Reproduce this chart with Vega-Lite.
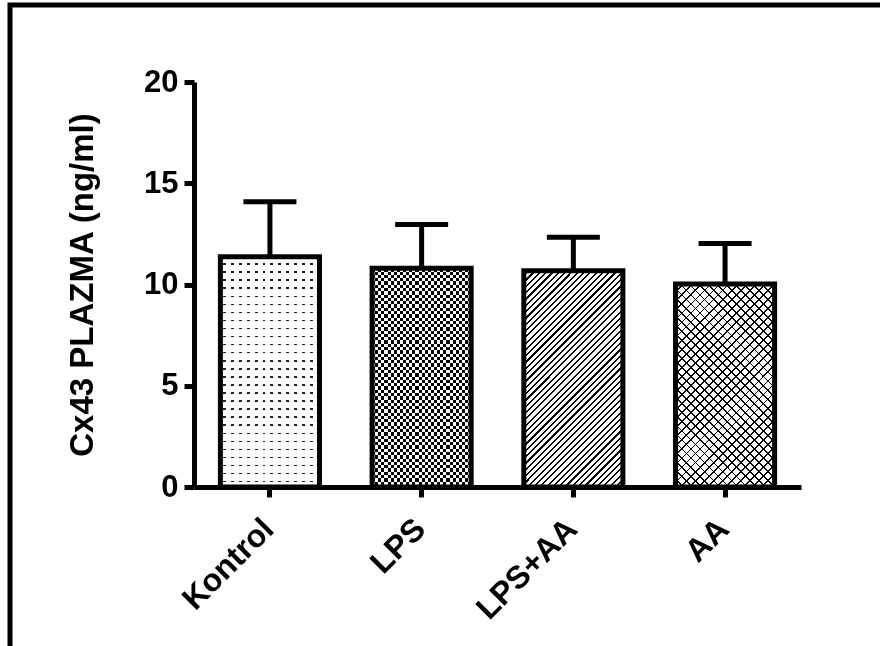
{
  "$schema": "https://vega.github.io/schema/vega-lite/v6.json",
  "width": 870,
  "height": 641,
  "autosize": {"type": "none"},
  "padding": {"left": 10, "top": 5, "right": 0, "bottom": 0},
  "background": "white",
  "config": {
    "view": {"stroke": "black", "strokeWidth": 5, "strokeDash": [870, 1511, 641]},
    "font": "Liberation Sans"
  },
  "data": {
    "values": [
      {"group": "Kontrol", "mean": 11.37, "upper": 14.09},
      {"group": "LPS", "mean": 10.8, "upper": 12.96},
      {"group": "LPS+AA", "mean": 10.68, "upper": 12.33},
      {"group": "AA", "mean": 10.02, "upper": 12.03}
    ]
  },
  "encoding": {
    "x": {
      "field": "group",
      "type": "nominal",
      "sort": null,
      "scale": {"domain": ["Kontrol", "LPS", "LPS+AA", "AA"], "range": [184, 791], "paddingInner": 0.347, "paddingOuter": 0.174},
      "axis": {
        "orient": "bottom",
        "offset": -159,
        "title": null,
        "labelAngle": -45,
        "labelAlign": "right",
        "labelBaseline": "top",
        "labelFont": "Liberation Sans",
        "labelFontSize": 32,
        "labelFontWeight": "bold",
        "labelColor": "black",
        "labelPadding": 16,
        "labelOffset": -12,
        "domainColor": "black",
        "domainWidth": 5,
        "tickColor": "black",
        "tickWidth": 5,
        "tickSize": 10,
        "grid": false
      }
    },
    "y": {
      "field": "mean",
      "type": "quantitative",
      "scale": {"domain": [0, 20], "range": [482, 77], "nice": false, "zero": true},
      "axis": {
        "orient": "left",
        "offset": -184,
        "values": [0, 5, 10, 15, 20],
        "grid": false,
        "domainColor": "black",
        "domainWidth": 5,
        "tickColor": "black",
        "tickWidth": 5,
        "tickSize": 10,
        "labelFont": "Liberation Sans",
        "labelFontSize": 31,
        "labelFontWeight": "bold",
        "labelColor": "black",
        "labelPadding": 6,
        "labelFlush": false,
        "labelOverlap": false,
        "title": "Cx43 PLAZMA (ng/ml)",
        "titleFont": "Liberation Sans",
        "titleFontSize": 33,
        "titleFontWeight": "bold",
        "titleColor": "black",
        "titlePadding": 44
      }
    }
  },
  "layer": [
    {
      "mark": {"type": "rule", "color": "black", "strokeWidth": 5},
      "encoding": {"y2": {"field": "upper"}}
    },
    {
      "transform": [{"filter": "datum.group === 'Kontrol'"}],
      "mark": {"type": "bar", "strokeWidth": 0, "fill": {"gradient": "linear", "x1": 0, "y1": 0, "x2": 0, "y2": 1, "stops": [
        {"offset": 0, "color": "#fff"},
        {"offset": 0.0285, "color": "#fff"}, {"offset": 0.0285, "color": "#222"}, {"offset": 0.035, "color": "#222"}, {"offset": 0.035, "color": "#fff"},
        {"offset": 0.0635, "color": "#fff"}, {"offset": 0.0635, "color": "#222"}, {"offset": 0.07, "color": "#222"}, {"offset": 0.07, "color": "#fff"},
        {"offset": 0.0985, "color": "#fff"}, {"offset": 0.0985, "color": "#222"}, {"offset": 0.105, "color": "#222"}, {"offset": 0.105, "color": "#fff"},
        {"offset": 0.1335, "color": "#fff"}, {"offset": 0.1335, "color": "#222"}, {"offset": 0.14, "color": "#222"}, {"offset": 0.14, "color": "#fff"},
        {"offset": 0.1685, "color": "#fff"}, {"offset": 0.1685, "color": "#222"}, {"offset": 0.175, "color": "#222"}, {"offset": 0.175, "color": "#fff"},
        {"offset": 0.2035, "color": "#fff"}, {"offset": 0.2035, "color": "#222"}, {"offset": 0.21, "color": "#222"}, {"offset": 0.21, "color": "#fff"},
        {"offset": 0.2385, "color": "#fff"}, {"offset": 0.2385, "color": "#222"}, {"offset": 0.245, "color": "#222"}, {"offset": 0.245, "color": "#fff"},
        {"offset": 0.2735, "color": "#fff"}, {"offset": 0.2735, "color": "#222"}, {"offset": 0.28, "color": "#222"}, {"offset": 0.28, "color": "#fff"},
        {"offset": 0.3085, "color": "#fff"}, {"offset": 0.3085, "color": "#222"}, {"offset": 0.315, "color": "#222"}, {"offset": 0.315, "color": "#fff"},
        {"offset": 0.3435, "color": "#fff"}, {"offset": 0.3435, "color": "#222"}, {"offset": 0.35, "color": "#222"}, {"offset": 0.35, "color": "#fff"},
        {"offset": 0.3785, "color": "#fff"}, {"offset": 0.3785, "color": "#222"}, {"offset": 0.385, "color": "#222"}, {"offset": 0.385, "color": "#fff"},
        {"offset": 0.4135, "color": "#fff"}, {"offset": 0.4135, "color": "#222"}, {"offset": 0.42, "color": "#222"}, {"offset": 0.42, "color": "#fff"},
        {"offset": 0.4485, "color": "#fff"}, {"offset": 0.4485, "color": "#222"}, {"offset": 0.455, "color": "#222"}, {"offset": 0.455, "color": "#fff"},
        {"offset": 0.4835, "color": "#fff"}, {"offset": 0.4835, "color": "#222"}, {"offset": 0.49, "color": "#222"}, {"offset": 0.49, "color": "#fff"},
        {"offset": 0.5185, "color": "#fff"}, {"offset": 0.5185, "color": "#222"}, {"offset": 0.525, "color": "#222"}, {"offset": 0.525, "color": "#fff"},
        {"offset": 0.5535, "color": "#fff"}, {"offset": 0.5535, "color": "#222"}, {"offset": 0.56, "color": "#222"}, {"offset": 0.56, "color": "#fff"},
        {"offset": 0.5885, "color": "#fff"}, {"offset": 0.5885, "color": "#222"}, {"offset": 0.595, "color": "#222"}, {"offset": 0.595, "color": "#fff"},
        {"offset": 0.6235, "color": "#fff"}, {"offset": 0.6235, "color": "#222"}, {"offset": 0.63, "color": "#222"}, {"offset": 0.63, "color": "#fff"},
        {"offset": 0.6585, "color": "#fff"}, {"offset": 0.6585, "color": "#222"}, {"offset": 0.665, "color": "#222"}, {"offset": 0.665, "color": "#fff"},
        {"offset": 0.6935, "color": "#fff"}, {"offset": 0.6935, "color": "#222"}, {"offset": 0.7, "color": "#222"}, {"offset": 0.7, "color": "#fff"},
        {"offset": 0.7285, "color": "#fff"}, {"offset": 0.7285, "color": "#222"}, {"offset": 0.735, "color": "#222"}, {"offset": 0.735, "color": "#fff"},
        {"offset": 0.7635, "color": "#fff"}, {"offset": 0.7635, "color": "#222"}, {"offset": 0.77, "color": "#222"}, {"offset": 0.77, "color": "#fff"},
        {"offset": 0.7985, "color": "#fff"}, {"offset": 0.7985, "color": "#222"}, {"offset": 0.805, "color": "#222"}, {"offset": 0.805, "color": "#fff"},
        {"offset": 0.8335, "color": "#fff"}, {"offset": 0.8335, "color": "#222"}, {"offset": 0.84, "color": "#222"}, {"offset": 0.84, "color": "#fff"},
        {"offset": 0.8685, "color": "#fff"}, {"offset": 0.8685, "color": "#222"}, {"offset": 0.875, "color": "#222"}, {"offset": 0.875, "color": "#fff"},
        {"offset": 0.9035, "color": "#fff"}, {"offset": 0.9035, "color": "#222"}, {"offset": 0.91, "color": "#222"}, {"offset": 0.91, "color": "#fff"},
        {"offset": 0.9385, "color": "#fff"}, {"offset": 0.9385, "color": "#222"}, {"offset": 0.945, "color": "#222"}, {"offset": 0.945, "color": "#fff"},
        {"offset": 0.9735, "color": "#fff"}, {"offset": 0.9735, "color": "#222"}, {"offset": 0.98, "color": "#222"}, {"offset": 0.98, "color": "#fff"},
        {"offset": 1, "color": "#fff"}
      ]}}
    },
    {
      "transform": [{"filter": "datum.group === 'Kontrol'"}],
      "mark": {"type": "bar", "strokeWidth": 0, "fill": {"gradient": "linear", "x1": 0, "y1": 0, "x2": 1, "y2": 0, "stops": [
        {"offset": 0, "color": "#fff"},
        {"offset": 0.025, "color": "#fff"}, {"offset": 0.025, "color": "#fff0"}, {"offset": 0.055, "color": "#fff0"}, {"offset": 0.055, "color": "#fff"},
        {"offset": 0.105, "color": "#fff"}, {"offset": 0.105, "color": "#fff0"}, {"offset": 0.135, "color": "#fff0"}, {"offset": 0.135, "color": "#fff"},
        {"offset": 0.185, "color": "#fff"}, {"offset": 0.185, "color": "#fff0"}, {"offset": 0.215, "color": "#fff0"}, {"offset": 0.215, "color": "#fff"},
        {"offset": 0.265, "color": "#fff"}, {"offset": 0.265, "color": "#fff0"}, {"offset": 0.295, "color": "#fff0"}, {"offset": 0.295, "color": "#fff"},
        {"offset": 0.345, "color": "#fff"}, {"offset": 0.345, "color": "#fff0"}, {"offset": 0.375, "color": "#fff0"}, {"offset": 0.375, "color": "#fff"},
        {"offset": 0.425, "color": "#fff"}, {"offset": 0.425, "color": "#fff0"}, {"offset": 0.455, "color": "#fff0"}, {"offset": 0.455, "color": "#fff"},
        {"offset": 0.505, "color": "#fff"}, {"offset": 0.505, "color": "#fff0"}, {"offset": 0.535, "color": "#fff0"}, {"offset": 0.535, "color": "#fff"},
        {"offset": 0.585, "color": "#fff"}, {"offset": 0.585, "color": "#fff0"}, {"offset": 0.615, "color": "#fff0"}, {"offset": 0.615, "color": "#fff"},
        {"offset": 0.665, "color": "#fff"}, {"offset": 0.665, "color": "#fff0"}, {"offset": 0.695, "color": "#fff0"}, {"offset": 0.695, "color": "#fff"},
        {"offset": 0.745, "color": "#fff"}, {"offset": 0.745, "color": "#fff0"}, {"offset": 0.775, "color": "#fff0"}, {"offset": 0.775, "color": "#fff"},
        {"offset": 0.825, "color": "#fff"}, {"offset": 0.825, "color": "#fff0"}, {"offset": 0.855, "color": "#fff0"}, {"offset": 0.855, "color": "#fff"},
        {"offset": 0.905, "color": "#fff"}, {"offset": 0.905, "color": "#fff0"}, {"offset": 0.935, "color": "#fff0"}, {"offset": 0.935, "color": "#fff"},
        {"offset": 1, "color": "#fff"}
      ]}}
    },
    {
      "transform": [{"filter": "datum.group === 'LPS'"}],
      "mark": {"type": "bar", "strokeWidth": 0, "fill": {"gradient": "linear", "x1": 0, "y1": 0, "x2": 1, "y2": 0, "stops": [
        {"offset": 0, "color": "#000"},
        {"offset": 0.03125, "color": "#000"}, {"offset": 0.03125, "color": "#fff"}, {"offset": 0.0625, "color": "#fff"}, {"offset": 0.0625, "color": "#000"},
        {"offset": 0.09375, "color": "#000"}, {"offset": 0.09375, "color": "#fff"}, {"offset": 0.125, "color": "#fff"}, {"offset": 0.125, "color": "#000"},
        {"offset": 0.15625, "color": "#000"}, {"offset": 0.15625, "color": "#fff"}, {"offset": 0.1875, "color": "#fff"}, {"offset": 0.1875, "color": "#000"},
        {"offset": 0.21875, "color": "#000"}, {"offset": 0.21875, "color": "#fff"}, {"offset": 0.25, "color": "#fff"}, {"offset": 0.25, "color": "#000"},
        {"offset": 0.28125, "color": "#000"}, {"offset": 0.28125, "color": "#fff"}, {"offset": 0.3125, "color": "#fff"}, {"offset": 0.3125, "color": "#000"},
        {"offset": 0.34375, "color": "#000"}, {"offset": 0.34375, "color": "#fff"}, {"offset": 0.375, "color": "#fff"}, {"offset": 0.375, "color": "#000"},
        {"offset": 0.40625, "color": "#000"}, {"offset": 0.40625, "color": "#fff"}, {"offset": 0.4375, "color": "#fff"}, {"offset": 0.4375, "color": "#000"},
        {"offset": 0.46875, "color": "#000"}, {"offset": 0.46875, "color": "#fff"}, {"offset": 0.5, "color": "#fff"}, {"offset": 0.5, "color": "#000"},
        {"offset": 0.53125, "color": "#000"}, {"offset": 0.53125, "color": "#fff"}, {"offset": 0.5625, "color": "#fff"}, {"offset": 0.5625, "color": "#000"},
        {"offset": 0.59375, "color": "#000"}, {"offset": 0.59375, "color": "#fff"}, {"offset": 0.625, "color": "#fff"}, {"offset": 0.625, "color": "#000"},
        {"offset": 0.65625, "color": "#000"}, {"offset": 0.65625, "color": "#fff"}, {"offset": 0.6875, "color": "#fff"}, {"offset": 0.6875, "color": "#000"},
        {"offset": 0.71875, "color": "#000"}, {"offset": 0.71875, "color": "#fff"}, {"offset": 0.75, "color": "#fff"}, {"offset": 0.75, "color": "#000"},
        {"offset": 0.78125, "color": "#000"}, {"offset": 0.78125, "color": "#fff"}, {"offset": 0.8125, "color": "#fff"}, {"offset": 0.8125, "color": "#000"},
        {"offset": 0.84375, "color": "#000"}, {"offset": 0.84375, "color": "#fff"}, {"offset": 0.875, "color": "#fff"}, {"offset": 0.875, "color": "#000"},
        {"offset": 0.90625, "color": "#000"}, {"offset": 0.90625, "color": "#fff"}, {"offset": 0.9375, "color": "#fff"}, {"offset": 0.9375, "color": "#000"},
        {"offset": 0.96875, "color": "#000"}, {"offset": 0.96875, "color": "#fff"}, {"offset": 1, "color": "#fff"}
      ]}}
    },
    {
      "transform": [{"filter": "datum.group === 'LPS'"}],
      "mark": {"type": "bar", "strokeWidth": 0, "blend": "difference", "fill": {"gradient": "linear", "x1": 0, "y1": 0, "x2": 0, "y2": 1, "stops": [
        {"offset": 0, "color": "#fff0"},
        {"offset": 0.015, "color": "#fff0"}, {"offset": 0.015, "color": "#fff"}, {"offset": 0.03, "color": "#fff"}, {"offset": 0.03, "color": "#fff0"},
        {"offset": 0.045, "color": "#fff0"}, {"offset": 0.045, "color": "#fff"}, {"offset": 0.06, "color": "#fff"}, {"offset": 0.06, "color": "#fff0"},
        {"offset": 0.075, "color": "#fff0"}, {"offset": 0.075, "color": "#fff"}, {"offset": 0.09, "color": "#fff"}, {"offset": 0.09, "color": "#fff0"},
        {"offset": 0.105, "color": "#fff0"}, {"offset": 0.105, "color": "#fff"}, {"offset": 0.12, "color": "#fff"}, {"offset": 0.12, "color": "#fff0"},
        {"offset": 0.135, "color": "#fff0"}, {"offset": 0.135, "color": "#fff"}, {"offset": 0.15, "color": "#fff"}, {"offset": 0.15, "color": "#fff0"},
        {"offset": 0.165, "color": "#fff0"}, {"offset": 0.165, "color": "#fff"}, {"offset": 0.18, "color": "#fff"}, {"offset": 0.18, "color": "#fff0"},
        {"offset": 0.195, "color": "#fff0"}, {"offset": 0.195, "color": "#fff"}, {"offset": 0.21, "color": "#fff"}, {"offset": 0.21, "color": "#fff0"},
        {"offset": 0.225, "color": "#fff0"}, {"offset": 0.225, "color": "#fff"}, {"offset": 0.24, "color": "#fff"}, {"offset": 0.24, "color": "#fff0"},
        {"offset": 0.255, "color": "#fff0"}, {"offset": 0.255, "color": "#fff"}, {"offset": 0.27, "color": "#fff"}, {"offset": 0.27, "color": "#fff0"},
        {"offset": 0.285, "color": "#fff0"}, {"offset": 0.285, "color": "#fff"}, {"offset": 0.3, "color": "#fff"}, {"offset": 0.3, "color": "#fff0"},
        {"offset": 0.315, "color": "#fff0"}, {"offset": 0.315, "color": "#fff"}, {"offset": 0.33, "color": "#fff"}, {"offset": 0.33, "color": "#fff0"},
        {"offset": 0.345, "color": "#fff0"}, {"offset": 0.345, "color": "#fff"}, {"offset": 0.36, "color": "#fff"}, {"offset": 0.36, "color": "#fff0"},
        {"offset": 0.375, "color": "#fff0"}, {"offset": 0.375, "color": "#fff"}, {"offset": 0.39, "color": "#fff"}, {"offset": 0.39, "color": "#fff0"},
        {"offset": 0.405, "color": "#fff0"}, {"offset": 0.405, "color": "#fff"}, {"offset": 0.42, "color": "#fff"}, {"offset": 0.42, "color": "#fff0"},
        {"offset": 0.435, "color": "#fff0"}, {"offset": 0.435, "color": "#fff"}, {"offset": 0.45, "color": "#fff"}, {"offset": 0.45, "color": "#fff0"},
        {"offset": 0.465, "color": "#fff0"}, {"offset": 0.465, "color": "#fff"}, {"offset": 0.48, "color": "#fff"}, {"offset": 0.48, "color": "#fff0"},
        {"offset": 0.495, "color": "#fff0"}, {"offset": 0.495, "color": "#fff"}, {"offset": 0.51, "color": "#fff"}, {"offset": 0.51, "color": "#fff0"},
        {"offset": 0.525, "color": "#fff0"}, {"offset": 0.525, "color": "#fff"}, {"offset": 0.54, "color": "#fff"}, {"offset": 0.54, "color": "#fff0"},
        {"offset": 0.555, "color": "#fff0"}, {"offset": 0.555, "color": "#fff"}, {"offset": 0.57, "color": "#fff"}, {"offset": 0.57, "color": "#fff0"},
        {"offset": 0.585, "color": "#fff0"}, {"offset": 0.585, "color": "#fff"}, {"offset": 0.6, "color": "#fff"}, {"offset": 0.6, "color": "#fff0"},
        {"offset": 0.615, "color": "#fff0"}, {"offset": 0.615, "color": "#fff"}, {"offset": 0.63, "color": "#fff"}, {"offset": 0.63, "color": "#fff0"},
        {"offset": 0.645, "color": "#fff0"}, {"offset": 0.645, "color": "#fff"}, {"offset": 0.66, "color": "#fff"}, {"offset": 0.66, "color": "#fff0"},
        {"offset": 0.675, "color": "#fff0"}, {"offset": 0.675, "color": "#fff"}, {"offset": 0.69, "color": "#fff"}, {"offset": 0.69, "color": "#fff0"},
        {"offset": 0.705, "color": "#fff0"}, {"offset": 0.705, "color": "#fff"}, {"offset": 0.72, "color": "#fff"}, {"offset": 0.72, "color": "#fff0"},
        {"offset": 0.735, "color": "#fff0"}, {"offset": 0.735, "color": "#fff"}, {"offset": 0.75, "color": "#fff"}, {"offset": 0.75, "color": "#fff0"},
        {"offset": 0.765, "color": "#fff0"}, {"offset": 0.765, "color": "#fff"}, {"offset": 0.78, "color": "#fff"}, {"offset": 0.78, "color": "#fff0"},
        {"offset": 0.795, "color": "#fff0"}, {"offset": 0.795, "color": "#fff"}, {"offset": 0.81, "color": "#fff"}, {"offset": 0.81, "color": "#fff0"},
        {"offset": 0.825, "color": "#fff0"}, {"offset": 0.825, "color": "#fff"}, {"offset": 0.84, "color": "#fff"}, {"offset": 0.84, "color": "#fff0"},
        {"offset": 0.855, "color": "#fff0"}, {"offset": 0.855, "color": "#fff"}, {"offset": 0.87, "color": "#fff"}, {"offset": 0.87, "color": "#fff0"},
        {"offset": 0.885, "color": "#fff0"}, {"offset": 0.885, "color": "#fff"}, {"offset": 0.9, "color": "#fff"}, {"offset": 0.9, "color": "#fff0"},
        {"offset": 0.915, "color": "#fff0"}, {"offset": 0.915, "color": "#fff"}, {"offset": 0.93, "color": "#fff"}, {"offset": 0.93, "color": "#fff0"},
        {"offset": 0.945, "color": "#fff0"}, {"offset": 0.945, "color": "#fff"}, {"offset": 0.96, "color": "#fff"}, {"offset": 0.96, "color": "#fff0"},
        {"offset": 0.975, "color": "#fff0"}, {"offset": 0.975, "color": "#fff"}, {"offset": 0.99, "color": "#fff"}, {"offset": 0.99, "color": "#fff0"},
        {"offset": 1, "color": "#fff0"}
      ]}}
    },
    {
      "transform": [{"filter": "datum.group === 'LPS+AA'"}],
      "mark": {"type": "bar", "strokeWidth": 0, "fill": {"gradient": "linear", "x1": 0, "y1": 0, "x2": 0.5522, "y2": 1.2052, "stops": [
        {"offset": 0, "color": "#fff"},
        {"offset": 0.013, "color": "#fff"}, {"offset": 0.013, "color": "#000"}, {"offset": 0.02, "color": "#000"}, {"offset": 0.02, "color": "#fff"},
        {"offset": 0.033, "color": "#fff"}, {"offset": 0.033, "color": "#000"}, {"offset": 0.04, "color": "#000"}, {"offset": 0.04, "color": "#fff"},
        {"offset": 0.053, "color": "#fff"}, {"offset": 0.053, "color": "#000"}, {"offset": 0.06, "color": "#000"}, {"offset": 0.06, "color": "#fff"},
        {"offset": 0.073, "color": "#fff"}, {"offset": 0.073, "color": "#000"}, {"offset": 0.08, "color": "#000"}, {"offset": 0.08, "color": "#fff"},
        {"offset": 0.093, "color": "#fff"}, {"offset": 0.093, "color": "#000"}, {"offset": 0.1, "color": "#000"}, {"offset": 0.1, "color": "#fff"},
        {"offset": 0.113, "color": "#fff"}, {"offset": 0.113, "color": "#000"}, {"offset": 0.12, "color": "#000"}, {"offset": 0.12, "color": "#fff"},
        {"offset": 0.133, "color": "#fff"}, {"offset": 0.133, "color": "#000"}, {"offset": 0.14, "color": "#000"}, {"offset": 0.14, "color": "#fff"},
        {"offset": 0.153, "color": "#fff"}, {"offset": 0.153, "color": "#000"}, {"offset": 0.16, "color": "#000"}, {"offset": 0.16, "color": "#fff"},
        {"offset": 0.173, "color": "#fff"}, {"offset": 0.173, "color": "#000"}, {"offset": 0.18, "color": "#000"}, {"offset": 0.18, "color": "#fff"},
        {"offset": 0.193, "color": "#fff"}, {"offset": 0.193, "color": "#000"}, {"offset": 0.2, "color": "#000"}, {"offset": 0.2, "color": "#fff"},
        {"offset": 0.213, "color": "#fff"}, {"offset": 0.213, "color": "#000"}, {"offset": 0.22, "color": "#000"}, {"offset": 0.22, "color": "#fff"},
        {"offset": 0.233, "color": "#fff"}, {"offset": 0.233, "color": "#000"}, {"offset": 0.24, "color": "#000"}, {"offset": 0.24, "color": "#fff"},
        {"offset": 0.253, "color": "#fff"}, {"offset": 0.253, "color": "#000"}, {"offset": 0.26, "color": "#000"}, {"offset": 0.26, "color": "#fff"},
        {"offset": 0.273, "color": "#fff"}, {"offset": 0.273, "color": "#000"}, {"offset": 0.28, "color": "#000"}, {"offset": 0.28, "color": "#fff"},
        {"offset": 0.293, "color": "#fff"}, {"offset": 0.293, "color": "#000"}, {"offset": 0.3, "color": "#000"}, {"offset": 0.3, "color": "#fff"},
        {"offset": 0.313, "color": "#fff"}, {"offset": 0.313, "color": "#000"}, {"offset": 0.32, "color": "#000"}, {"offset": 0.32, "color": "#fff"},
        {"offset": 0.333, "color": "#fff"}, {"offset": 0.333, "color": "#000"}, {"offset": 0.34, "color": "#000"}, {"offset": 0.34, "color": "#fff"},
        {"offset": 0.353, "color": "#fff"}, {"offset": 0.353, "color": "#000"}, {"offset": 0.36, "color": "#000"}, {"offset": 0.36, "color": "#fff"},
        {"offset": 0.373, "color": "#fff"}, {"offset": 0.373, "color": "#000"}, {"offset": 0.38, "color": "#000"}, {"offset": 0.38, "color": "#fff"},
        {"offset": 0.393, "color": "#fff"}, {"offset": 0.393, "color": "#000"}, {"offset": 0.4, "color": "#000"}, {"offset": 0.4, "color": "#fff"},
        {"offset": 0.413, "color": "#fff"}, {"offset": 0.413, "color": "#000"}, {"offset": 0.42, "color": "#000"}, {"offset": 0.42, "color": "#fff"},
        {"offset": 0.433, "color": "#fff"}, {"offset": 0.433, "color": "#000"}, {"offset": 0.44, "color": "#000"}, {"offset": 0.44, "color": "#fff"},
        {"offset": 0.453, "color": "#fff"}, {"offset": 0.453, "color": "#000"}, {"offset": 0.46, "color": "#000"}, {"offset": 0.46, "color": "#fff"},
        {"offset": 0.473, "color": "#fff"}, {"offset": 0.473, "color": "#000"}, {"offset": 0.48, "color": "#000"}, {"offset": 0.48, "color": "#fff"},
        {"offset": 0.493, "color": "#fff"}, {"offset": 0.493, "color": "#000"}, {"offset": 0.5, "color": "#000"}, {"offset": 0.5, "color": "#fff"},
        {"offset": 0.513, "color": "#fff"}, {"offset": 0.513, "color": "#000"}, {"offset": 0.52, "color": "#000"}, {"offset": 0.52, "color": "#fff"},
        {"offset": 0.533, "color": "#fff"}, {"offset": 0.533, "color": "#000"}, {"offset": 0.54, "color": "#000"}, {"offset": 0.54, "color": "#fff"},
        {"offset": 0.553, "color": "#fff"}, {"offset": 0.553, "color": "#000"}, {"offset": 0.56, "color": "#000"}, {"offset": 0.56, "color": "#fff"},
        {"offset": 0.573, "color": "#fff"}, {"offset": 0.573, "color": "#000"}, {"offset": 0.58, "color": "#000"}, {"offset": 0.58, "color": "#fff"},
        {"offset": 0.593, "color": "#fff"}, {"offset": 0.593, "color": "#000"}, {"offset": 0.6, "color": "#000"}, {"offset": 0.6, "color": "#fff"},
        {"offset": 0.613, "color": "#fff"}, {"offset": 0.613, "color": "#000"}, {"offset": 0.62, "color": "#000"}, {"offset": 0.62, "color": "#fff"},
        {"offset": 0.633, "color": "#fff"}, {"offset": 0.633, "color": "#000"}, {"offset": 0.64, "color": "#000"}, {"offset": 0.64, "color": "#fff"},
        {"offset": 0.653, "color": "#fff"}, {"offset": 0.653, "color": "#000"}, {"offset": 0.66, "color": "#000"}, {"offset": 0.66, "color": "#fff"},
        {"offset": 0.673, "color": "#fff"}, {"offset": 0.673, "color": "#000"}, {"offset": 0.68, "color": "#000"}, {"offset": 0.68, "color": "#fff"},
        {"offset": 0.693, "color": "#fff"}, {"offset": 0.693, "color": "#000"}, {"offset": 0.7, "color": "#000"}, {"offset": 0.7, "color": "#fff"},
        {"offset": 0.713, "color": "#fff"}, {"offset": 0.713, "color": "#000"}, {"offset": 0.72, "color": "#000"}, {"offset": 0.72, "color": "#fff"},
        {"offset": 0.733, "color": "#fff"}, {"offset": 0.733, "color": "#000"}, {"offset": 0.74, "color": "#000"}, {"offset": 0.74, "color": "#fff"},
        {"offset": 0.753, "color": "#fff"}, {"offset": 0.753, "color": "#000"}, {"offset": 0.76, "color": "#000"}, {"offset": 0.76, "color": "#fff"},
        {"offset": 0.773, "color": "#fff"}, {"offset": 0.773, "color": "#000"}, {"offset": 0.78, "color": "#000"}, {"offset": 0.78, "color": "#fff"},
        {"offset": 0.793, "color": "#fff"}, {"offset": 0.793, "color": "#000"}, {"offset": 0.8, "color": "#000"}, {"offset": 0.8, "color": "#fff"},
        {"offset": 0.813, "color": "#fff"}, {"offset": 0.813, "color": "#000"}, {"offset": 0.82, "color": "#000"}, {"offset": 0.82, "color": "#fff"},
        {"offset": 0.833, "color": "#fff"}, {"offset": 0.833, "color": "#000"}, {"offset": 0.84, "color": "#000"}, {"offset": 0.84, "color": "#fff"},
        {"offset": 0.853, "color": "#fff"}, {"offset": 0.853, "color": "#000"}, {"offset": 0.86, "color": "#000"}, {"offset": 0.86, "color": "#fff"},
        {"offset": 0.873, "color": "#fff"}, {"offset": 0.873, "color": "#000"}, {"offset": 0.88, "color": "#000"}, {"offset": 0.88, "color": "#fff"},
        {"offset": 0.893, "color": "#fff"}, {"offset": 0.893, "color": "#000"}, {"offset": 0.9, "color": "#000"}, {"offset": 0.9, "color": "#fff"},
        {"offset": 0.913, "color": "#fff"}, {"offset": 0.913, "color": "#000"}, {"offset": 0.92, "color": "#000"}, {"offset": 0.92, "color": "#fff"},
        {"offset": 0.933, "color": "#fff"}, {"offset": 0.933, "color": "#000"}, {"offset": 0.94, "color": "#000"}, {"offset": 0.94, "color": "#fff"},
        {"offset": 0.953, "color": "#fff"}, {"offset": 0.953, "color": "#000"}, {"offset": 0.96, "color": "#000"}, {"offset": 0.96, "color": "#fff"},
        {"offset": 0.973, "color": "#fff"}, {"offset": 0.973, "color": "#000"}, {"offset": 0.98, "color": "#000"}, {"offset": 0.98, "color": "#fff"},
        {"offset": 0.993, "color": "#fff"}, {"offset": 0.993, "color": "#000"}, {"offset": 1, "color": "#000"}
      ]}}
    },
    {
      "transform": [{"filter": "datum.group === 'AA'"}],
      "mark": {"type": "bar", "strokeWidth": 0, "fill": {"gradient": "linear", "x1": 0, "y1": 1, "x2": 0.587, "y2": -0.2018, "stops": [
        {"offset": 0, "color": "#fff"},
        {"offset": 0.024, "color": "#fff"}, {"offset": 0.024, "color": "#000"}, {"offset": 0.03, "color": "#000"}, {"offset": 0.03, "color": "#fff"},
        {"offset": 0.054, "color": "#fff"}, {"offset": 0.054, "color": "#000"}, {"offset": 0.06, "color": "#000"}, {"offset": 0.06, "color": "#fff"},
        {"offset": 0.084, "color": "#fff"}, {"offset": 0.084, "color": "#000"}, {"offset": 0.09, "color": "#000"}, {"offset": 0.09, "color": "#fff"},
        {"offset": 0.114, "color": "#fff"}, {"offset": 0.114, "color": "#000"}, {"offset": 0.12, "color": "#000"}, {"offset": 0.12, "color": "#fff"},
        {"offset": 0.144, "color": "#fff"}, {"offset": 0.144, "color": "#000"}, {"offset": 0.15, "color": "#000"}, {"offset": 0.15, "color": "#fff"},
        {"offset": 0.174, "color": "#fff"}, {"offset": 0.174, "color": "#000"}, {"offset": 0.18, "color": "#000"}, {"offset": 0.18, "color": "#fff"},
        {"offset": 0.204, "color": "#fff"}, {"offset": 0.204, "color": "#000"}, {"offset": 0.21, "color": "#000"}, {"offset": 0.21, "color": "#fff"},
        {"offset": 0.234, "color": "#fff"}, {"offset": 0.234, "color": "#000"}, {"offset": 0.24, "color": "#000"}, {"offset": 0.24, "color": "#fff"},
        {"offset": 0.264, "color": "#fff"}, {"offset": 0.264, "color": "#000"}, {"offset": 0.27, "color": "#000"}, {"offset": 0.27, "color": "#fff"},
        {"offset": 0.294, "color": "#fff"}, {"offset": 0.294, "color": "#000"}, {"offset": 0.3, "color": "#000"}, {"offset": 0.3, "color": "#fff"},
        {"offset": 0.324, "color": "#fff"}, {"offset": 0.324, "color": "#000"}, {"offset": 0.33, "color": "#000"}, {"offset": 0.33, "color": "#fff"},
        {"offset": 0.354, "color": "#fff"}, {"offset": 0.354, "color": "#000"}, {"offset": 0.36, "color": "#000"}, {"offset": 0.36, "color": "#fff"},
        {"offset": 0.384, "color": "#fff"}, {"offset": 0.384, "color": "#000"}, {"offset": 0.39, "color": "#000"}, {"offset": 0.39, "color": "#fff"},
        {"offset": 0.414, "color": "#fff"}, {"offset": 0.414, "color": "#000"}, {"offset": 0.42, "color": "#000"}, {"offset": 0.42, "color": "#fff"},
        {"offset": 0.444, "color": "#fff"}, {"offset": 0.444, "color": "#000"}, {"offset": 0.45, "color": "#000"}, {"offset": 0.45, "color": "#fff"},
        {"offset": 0.474, "color": "#fff"}, {"offset": 0.474, "color": "#000"}, {"offset": 0.48, "color": "#000"}, {"offset": 0.48, "color": "#fff"},
        {"offset": 0.504, "color": "#fff"}, {"offset": 0.504, "color": "#000"}, {"offset": 0.51, "color": "#000"}, {"offset": 0.51, "color": "#fff"},
        {"offset": 0.534, "color": "#fff"}, {"offset": 0.534, "color": "#000"}, {"offset": 0.54, "color": "#000"}, {"offset": 0.54, "color": "#fff"},
        {"offset": 0.564, "color": "#fff"}, {"offset": 0.564, "color": "#000"}, {"offset": 0.57, "color": "#000"}, {"offset": 0.57, "color": "#fff"},
        {"offset": 0.594, "color": "#fff"}, {"offset": 0.594, "color": "#000"}, {"offset": 0.6, "color": "#000"}, {"offset": 0.6, "color": "#fff"},
        {"offset": 0.624, "color": "#fff"}, {"offset": 0.624, "color": "#000"}, {"offset": 0.63, "color": "#000"}, {"offset": 0.63, "color": "#fff"},
        {"offset": 0.654, "color": "#fff"}, {"offset": 0.654, "color": "#000"}, {"offset": 0.66, "color": "#000"}, {"offset": 0.66, "color": "#fff"},
        {"offset": 0.684, "color": "#fff"}, {"offset": 0.684, "color": "#000"}, {"offset": 0.69, "color": "#000"}, {"offset": 0.69, "color": "#fff"},
        {"offset": 0.714, "color": "#fff"}, {"offset": 0.714, "color": "#000"}, {"offset": 0.72, "color": "#000"}, {"offset": 0.72, "color": "#fff"},
        {"offset": 0.744, "color": "#fff"}, {"offset": 0.744, "color": "#000"}, {"offset": 0.75, "color": "#000"}, {"offset": 0.75, "color": "#fff"},
        {"offset": 0.774, "color": "#fff"}, {"offset": 0.774, "color": "#000"}, {"offset": 0.78, "color": "#000"}, {"offset": 0.78, "color": "#fff"},
        {"offset": 0.804, "color": "#fff"}, {"offset": 0.804, "color": "#000"}, {"offset": 0.81, "color": "#000"}, {"offset": 0.81, "color": "#fff"},
        {"offset": 0.834, "color": "#fff"}, {"offset": 0.834, "color": "#000"}, {"offset": 0.84, "color": "#000"}, {"offset": 0.84, "color": "#fff"},
        {"offset": 0.864, "color": "#fff"}, {"offset": 0.864, "color": "#000"}, {"offset": 0.87, "color": "#000"}, {"offset": 0.87, "color": "#fff"},
        {"offset": 0.894, "color": "#fff"}, {"offset": 0.894, "color": "#000"}, {"offset": 0.9, "color": "#000"}, {"offset": 0.9, "color": "#fff"},
        {"offset": 0.924, "color": "#fff"}, {"offset": 0.924, "color": "#000"}, {"offset": 0.93, "color": "#000"}, {"offset": 0.93, "color": "#fff"},
        {"offset": 0.954, "color": "#fff"}, {"offset": 0.954, "color": "#000"}, {"offset": 0.96, "color": "#000"}, {"offset": 0.96, "color": "#fff"},
        {"offset": 0.984, "color": "#fff"}, {"offset": 0.984, "color": "#000"}, {"offset": 0.99, "color": "#000"}, {"offset": 0.99, "color": "#fff"},
        {"offset": 1, "color": "#fff"}
      ]}}
    },
    {
      "transform": [{"filter": "datum.group === 'AA'"}],
      "mark": {"type": "bar", "strokeWidth": 0, "fill": {"gradient": "linear", "x1": 0, "y1": 0, "x2": 0.587, "y2": 1.2018, "stops": [
        {"offset": 0, "color": "#0000"},
        {"offset": 0.024, "color": "#0000"}, {"offset": 0.024, "color": "#000"}, {"offset": 0.03, "color": "#000"}, {"offset": 0.03, "color": "#0000"},
        {"offset": 0.054, "color": "#0000"}, {"offset": 0.054, "color": "#000"}, {"offset": 0.06, "color": "#000"}, {"offset": 0.06, "color": "#0000"},
        {"offset": 0.084, "color": "#0000"}, {"offset": 0.084, "color": "#000"}, {"offset": 0.09, "color": "#000"}, {"offset": 0.09, "color": "#0000"},
        {"offset": 0.114, "color": "#0000"}, {"offset": 0.114, "color": "#000"}, {"offset": 0.12, "color": "#000"}, {"offset": 0.12, "color": "#0000"},
        {"offset": 0.144, "color": "#0000"}, {"offset": 0.144, "color": "#000"}, {"offset": 0.15, "color": "#000"}, {"offset": 0.15, "color": "#0000"},
        {"offset": 0.174, "color": "#0000"}, {"offset": 0.174, "color": "#000"}, {"offset": 0.18, "color": "#000"}, {"offset": 0.18, "color": "#0000"},
        {"offset": 0.204, "color": "#0000"}, {"offset": 0.204, "color": "#000"}, {"offset": 0.21, "color": "#000"}, {"offset": 0.21, "color": "#0000"},
        {"offset": 0.234, "color": "#0000"}, {"offset": 0.234, "color": "#000"}, {"offset": 0.24, "color": "#000"}, {"offset": 0.24, "color": "#0000"},
        {"offset": 0.264, "color": "#0000"}, {"offset": 0.264, "color": "#000"}, {"offset": 0.27, "color": "#000"}, {"offset": 0.27, "color": "#0000"},
        {"offset": 0.294, "color": "#0000"}, {"offset": 0.294, "color": "#000"}, {"offset": 0.3, "color": "#000"}, {"offset": 0.3, "color": "#0000"},
        {"offset": 0.324, "color": "#0000"}, {"offset": 0.324, "color": "#000"}, {"offset": 0.33, "color": "#000"}, {"offset": 0.33, "color": "#0000"},
        {"offset": 0.354, "color": "#0000"}, {"offset": 0.354, "color": "#000"}, {"offset": 0.36, "color": "#000"}, {"offset": 0.36, "color": "#0000"},
        {"offset": 0.384, "color": "#0000"}, {"offset": 0.384, "color": "#000"}, {"offset": 0.39, "color": "#000"}, {"offset": 0.39, "color": "#0000"},
        {"offset": 0.414, "color": "#0000"}, {"offset": 0.414, "color": "#000"}, {"offset": 0.42, "color": "#000"}, {"offset": 0.42, "color": "#0000"},
        {"offset": 0.444, "color": "#0000"}, {"offset": 0.444, "color": "#000"}, {"offset": 0.45, "color": "#000"}, {"offset": 0.45, "color": "#0000"},
        {"offset": 0.474, "color": "#0000"}, {"offset": 0.474, "color": "#000"}, {"offset": 0.48, "color": "#000"}, {"offset": 0.48, "color": "#0000"},
        {"offset": 0.504, "color": "#0000"}, {"offset": 0.504, "color": "#000"}, {"offset": 0.51, "color": "#000"}, {"offset": 0.51, "color": "#0000"},
        {"offset": 0.534, "color": "#0000"}, {"offset": 0.534, "color": "#000"}, {"offset": 0.54, "color": "#000"}, {"offset": 0.54, "color": "#0000"},
        {"offset": 0.564, "color": "#0000"}, {"offset": 0.564, "color": "#000"}, {"offset": 0.57, "color": "#000"}, {"offset": 0.57, "color": "#0000"},
        {"offset": 0.594, "color": "#0000"}, {"offset": 0.594, "color": "#000"}, {"offset": 0.6, "color": "#000"}, {"offset": 0.6, "color": "#0000"},
        {"offset": 0.624, "color": "#0000"}, {"offset": 0.624, "color": "#000"}, {"offset": 0.63, "color": "#000"}, {"offset": 0.63, "color": "#0000"},
        {"offset": 0.654, "color": "#0000"}, {"offset": 0.654, "color": "#000"}, {"offset": 0.66, "color": "#000"}, {"offset": 0.66, "color": "#0000"},
        {"offset": 0.684, "color": "#0000"}, {"offset": 0.684, "color": "#000"}, {"offset": 0.69, "color": "#000"}, {"offset": 0.69, "color": "#0000"},
        {"offset": 0.714, "color": "#0000"}, {"offset": 0.714, "color": "#000"}, {"offset": 0.72, "color": "#000"}, {"offset": 0.72, "color": "#0000"},
        {"offset": 0.744, "color": "#0000"}, {"offset": 0.744, "color": "#000"}, {"offset": 0.75, "color": "#000"}, {"offset": 0.75, "color": "#0000"},
        {"offset": 0.774, "color": "#0000"}, {"offset": 0.774, "color": "#000"}, {"offset": 0.78, "color": "#000"}, {"offset": 0.78, "color": "#0000"},
        {"offset": 0.804, "color": "#0000"}, {"offset": 0.804, "color": "#000"}, {"offset": 0.81, "color": "#000"}, {"offset": 0.81, "color": "#0000"},
        {"offset": 0.834, "color": "#0000"}, {"offset": 0.834, "color": "#000"}, {"offset": 0.84, "color": "#000"}, {"offset": 0.84, "color": "#0000"},
        {"offset": 0.864, "color": "#0000"}, {"offset": 0.864, "color": "#000"}, {"offset": 0.87, "color": "#000"}, {"offset": 0.87, "color": "#0000"},
        {"offset": 0.894, "color": "#0000"}, {"offset": 0.894, "color": "#000"}, {"offset": 0.9, "color": "#000"}, {"offset": 0.9, "color": "#0000"},
        {"offset": 0.924, "color": "#0000"}, {"offset": 0.924, "color": "#000"}, {"offset": 0.93, "color": "#000"}, {"offset": 0.93, "color": "#0000"},
        {"offset": 0.954, "color": "#0000"}, {"offset": 0.954, "color": "#000"}, {"offset": 0.96, "color": "#000"}, {"offset": 0.96, "color": "#0000"},
        {"offset": 0.984, "color": "#0000"}, {"offset": 0.984, "color": "#000"}, {"offset": 0.99, "color": "#000"}, {"offset": 0.99, "color": "#0000"},
        {"offset": 1, "color": "#0000"}
      ]}}
    },
    {
      "mark": {"type": "bar", "fill": "transparent", "stroke": "black", "strokeWidth": 5, "strokeJoin": "miter"}
    },
    {
      "mark": {"type": "tick", "color": "black", "thickness": 5, "size": 53, "opacity": 1},
      "encoding": {"y": {"field": "upper", "type": "quantitative"}}
    }
  ]
}
